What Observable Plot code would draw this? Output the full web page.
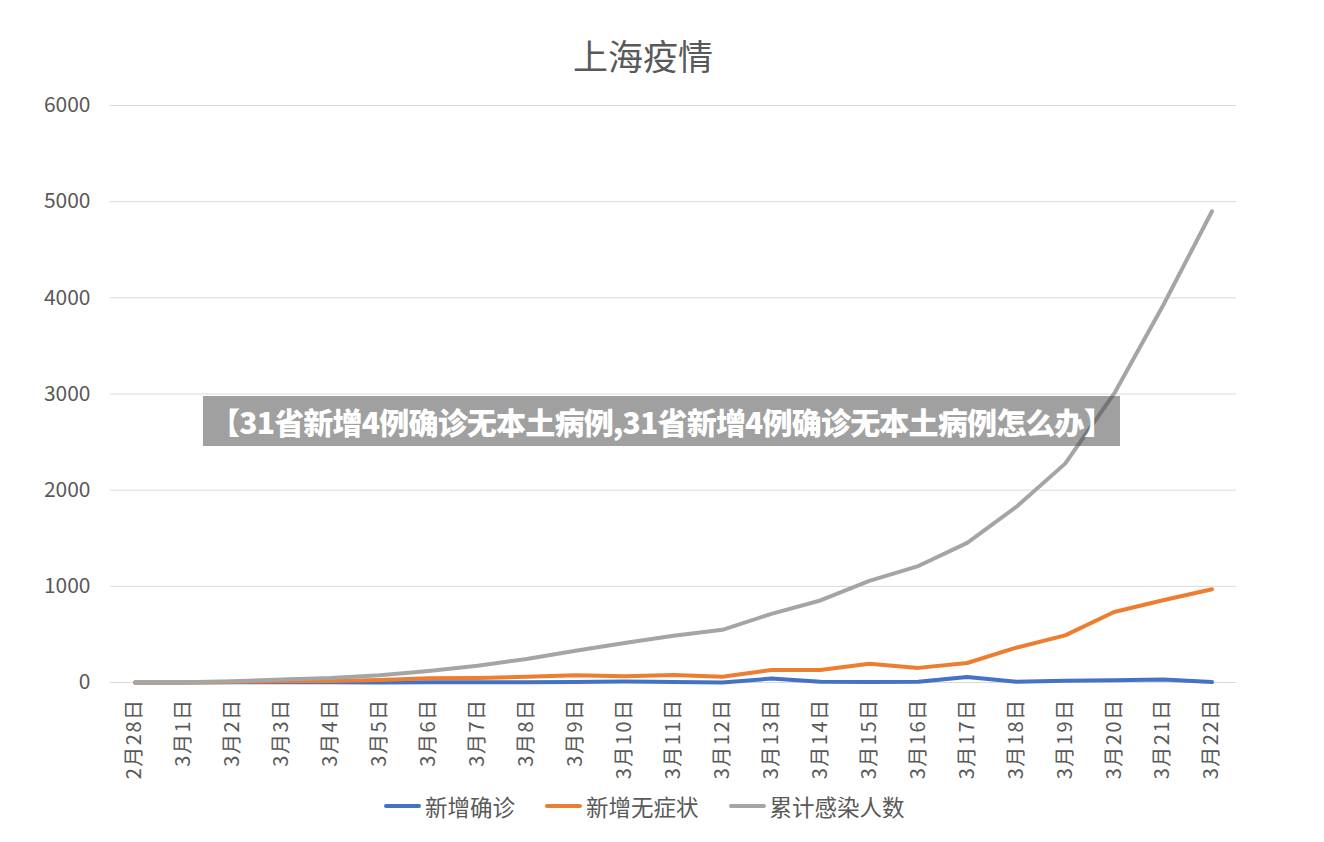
<!DOCTYPE html>
<html>
<head>
<meta charset="utf-8">
<script src="https://cdn.jsdelivr.net/npm/d3@7"></script>
<script src="https://cdn.jsdelivr.net/npm/@observablehq/plot@0.6"></script>
<style>
  body { margin: 0; background: #fff; }
  #wrap { position: relative; width: 1324px; height: 842px; font-family: "Noto Sans CJK SC", "Noto Sans", sans-serif; color: #595959; }
  #title { position: absolute; left: 0; top: 33px; width: 1286px; text-align: center; font-size: 35px; line-height: 44px; }
  #chart { position: absolute; left: 0; top: 80px; }
  #legend { position: absolute; left: 384px; top: 790px; display: flex; font-size: 22.5px; line-height: 32px; }
  #legend .item { display: flex; align-items: center; margin-right: 30px; }
  #legend .sw { width: 37px; height: 4px; border-radius: 2px; margin-right: 4px; }
  #banner { position: absolute; left: 203px; top: 396px; width: 917px; height: 50px; background: rgba(72, 72, 72, 0.52);
            color: #fff; font-weight: 900; font-size: 30px; line-height: 50px; text-align: center; white-space: nowrap; letter-spacing: -0.8px; }
</style>
</head>
<body>
<div id="wrap">
  <div id="title">上海疫情</div>
  <div id="chart"></div>
  <div id="legend"></div>
  <div id="banner">【31省新增4例确诊无本土病例,31省新增4例确诊无本土病例怎么办】</div>
</div>
<script>
// Dates on the x axis
const dates = ["2月28日", "3月1日", "3月2日", "3月3日", "3月4日", "3月5日", "3月6日", "3月7日",
  "3月8日", "3月9日", "3月10日", "3月11日", "3月12日", "3月13日", "3月14日", "3月15日",
  "3月16日", "3月17日", "3月18日", "3月19日", "3月20日", "3月21日", "3月22日"];

// Series values, one per date
const newConfirmed = [0, 1, 3, 2, 3, 0, 3, 3, 3, 4, 10, 5, 1, 41, 9, 5, 8, 57, 8, 17, 24, 31, 4];
const newAsymptomatic = [0, 1, 5, 14, 16, 26, 45, 47, 59, 76, 64, 78, 60, 130, 130, 195, 152, 203, 362, 490, 733, 855, 970];
const cumulative = [0, 3, 12, 31, 47, 75, 120, 175, 245, 330, 410, 487, 548, 714, 853, 1056, 1211, 1452, 1826, 2276, 3003, 3920, 4900];

const seriesNames = ["新增确诊", "新增无症状", "累计感染人数"];
const seriesColors = ["#4472C4", "#ED7D31", "#A5A5A5"];
const yTicks = [0, 1000, 2000, 3000, 4000, 5000, 6000];

const toRows = (vals) => dates.map((d, i) => ({date: d, value: vals[i]}));

const lineOpts = (name) => ({
  x: "date", y: "value", stroke: () => name,
  strokeWidth: 4, strokeLinejoin: "round", strokeLinecap: "round"
});

const chart = Plot.plot({
  width: 1324,
  height: 700,
  marginLeft: 110,
  marginRight: 88,
  marginTop: 25,
  marginBottom: 98,
  style: {fontFamily: "'Noto Sans CJK SC', 'Noto Sans', sans-serif", fontSize: "20px", color: "#595959", background: "transparent"},
  x: {type: "point", domain: dates, padding: 0.5, round: false, label: null, tickRotate: -90, tickSize: 0, tickPadding: 16},
  y: {domain: [0, 6000], ticks: yTicks, label: null, tickSize: 0, tickPadding: 20, tickFormat: d => String(d)},
  color: {domain: seriesNames, range: seriesColors},
  marks: [
    Plot.ruleY(yTicks, {stroke: "#d9d9d9", strokeWidth: 1}),
    Plot.line(toRows(newConfirmed), lineOpts(seriesNames[0])),
    Plot.line(toRows(newAsymptomatic), lineOpts(seriesNames[1])),
    Plot.line(toRows(cumulative), lineOpts(seriesNames[2]))
  ]
});
chart.querySelectorAll("g[aria-label='y-axis tick label'] text").forEach(t => t.style.fontSize = "21px");
chart.querySelectorAll("g[aria-label='x-axis tick label'] text").forEach(t => t.style.letterSpacing = "1.5px");
document.getElementById("chart").appendChild(chart);

// Legend below the chart
const legend = document.getElementById("legend");
seriesNames.forEach((name, i) => {
  const item = document.createElement("div");
  item.className = "item";
  const sw = document.createElement("span");
  sw.className = "sw";
  sw.style.background = seriesColors[i];
  const label = document.createElement("span");
  label.textContent = name;
  item.appendChild(sw);
  item.appendChild(label);
  legend.appendChild(item);
});
</script>
</body>
</html>
